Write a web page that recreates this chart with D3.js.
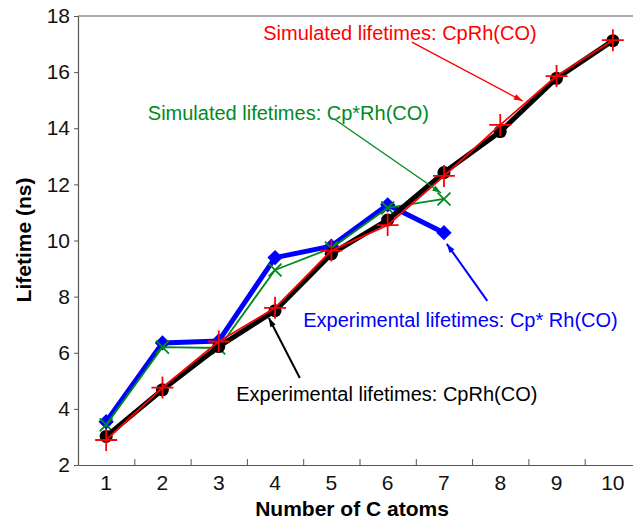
<!DOCTYPE html>
<html>
<head>
<meta charset="utf-8">
<script src="https://cdn.jsdelivr.net/npm/d3@7"></script>
<style>
  body { margin: 0; background: #fff; }
  text { font-family: "Liberation Sans", Arial, sans-serif; }
</style>
</head>
<body>
<svg id="chart" width="633" height="523"></svg>
<script>
// data
const carbons = [1, 2, 3, 4, 5, 6, 7, 8, 9, 10];
const expCp = [3.02, 4.68, 6.22, 7.5, 9.52, 10.73, 12.42, 13.88, 15.78, 17.12];
const simCp = [2.89, 4.76, 6.4, 7.6, 9.64, 10.55, 12.3, 14.12, 15.86, 17.14];
const expCpStar = [3.54, 6.35, 6.42, 9.39, 9.8, 11.27, 10.28];
const simCpStar = [3.43, 6.2, 6.17, 8.95, 9.73, 11.16, 11.48];
const yTicks = [2, 4, 6, 8, 10, 12, 14, 16, 18];

// annotation labels (data units), arrow from -> to
const notes = [
  {text: 'Simulated lifetimes: CpRh(CO)', color: '#ff0000', tx: 3.79, ty: 17.15, from: [6.43, 17.07], to: [8.40, 14.97]},
  {text: 'Simulated lifetimes: Cp*Rh(CO)', color: '#008a1e', tx: 1.74, ty: 14.3, from: [5.07, 14.3], to: [6.95, 11.69]},
  {text: 'Experimental lifetimes: Cp* Rh(CO)', color: '#0000ff', tx: 4.5, ty: 6.92, from: [7.77, 7.85], to: [7.05, 9.88]},
  {text: 'Experimental lifetimes: CpRh(CO)', color: '#000000', tx: 3.31, ty: 4.28, from: [4.44, 5.1], to: [3.89, 7.24]}
];

const svg = d3.select('#chart');
const LEFT = 78, TOP = 16, BOTTOM = 465, RIGHT = 641;

const x = d3.scaleLinear().domain([0.5, 10.5]).range([LEFT, RIGHT]);
const y = d3.scaleLinear().domain([2, 18]).range([BOTTOM, TOP]);
const axisColor = '#555';

// frame: top border
svg.append('line')
  .attr('x1', LEFT).attr('x2', RIGHT)
  .attr('y1', TOP).attr('y2', TOP)
  .attr('stroke', axisColor).attr('stroke-width', 1.2);

// left axis
const yAxis = svg.append('g')
  .attr('transform', `translate(${LEFT},0)`)
  .call(d3.axisLeft(y).tickValues(yTicks).tickSize(4).tickSizeOuter(0).tickPadding(4));
yAxis.select('.domain').attr('stroke', axisColor).attr('stroke-width', 1.2);
yAxis.selectAll('.tick line').attr('stroke', axisColor);
yAxis.selectAll('.tick text')
  .attr('fill', '#111')
  .style('font-size', '21px')
  .style('font-family', '"Liberation Sans", Arial, sans-serif');

// bottom axis: ticks between categories, pointing inward
const xAxis = svg.append('g')
  .attr('transform', `translate(0,${BOTTOM})`)
  .call(d3.axisBottom(x).tickValues(carbons.slice(0, -1).map(d => d + 0.5))
    .tickSize(-6).tickSizeOuter(0).tickFormat(''));
xAxis.select('.domain').attr('stroke', axisColor).attr('stroke-width', 1.2);
xAxis.selectAll('.tick line').attr('stroke', axisColor);

svg.append('g').selectAll('text')
  .data(carbons)
  .enter()
  .append('text')
  .attr('x', d => x(d))
  .attr('y', BOTTOM + 25)
  .style('text-anchor', 'middle')
  .style('font-size', '21px')
  .attr('fill', '#111')
  .text(d => d);

// axis titles
svg.append('text')
  .attr('x', 352)
  .attr('y', 516)
  .style('text-anchor', 'middle')
  .style('font-size', '21px')
  .style('font-weight', 'bold')
  .text('Number of C atoms');

svg.append('text')
  .attr('transform', 'rotate(-90)')
  .attr('x', -240)
  .attr('y', 31)
  .style('text-anchor', 'middle')
  .style('font-size', '21px')
  .style('font-weight', 'bold')
  .text('Lifetime (ns)');

const line = d3.line().x((d, i) => x(carbons[i])).y(d => y(d));

function drawSeries(vals, color, width) {
  svg.append('path')
    .datum(vals)
    .attr('d', line)
    .attr('fill', 'none')
    .attr('stroke', color)
    .attr('stroke-width', width)
    .attr('stroke-linejoin', 'round');
  return svg.append('g').selectAll('path').data(vals).enter();
}

// blue: experimental Cp*
drawSeries(expCpStar, '#0000ff', 5)
  .append('path')
  .attr('d', d3.symbol(d3.symbolDiamond2, 150))
  .attr('transform', (d, i) => `translate(${x(carbons[i])},${y(d)})`)
  .attr('fill', '#0000ff');

// green: simulated Cp*
drawSeries(simCpStar, '#008a1e', 1.8)
  .append('path')
  .attr('d', d3.symbol(d3.symbolX, 110))
  .attr('transform', (d, i) => `translate(${x(carbons[i])},${y(d)})`)
  .attr('fill', 'none')
  .attr('stroke', '#008a1e')
  .attr('stroke-width', 1.8);

// black: experimental Cp
drawSeries(expCp, '#000', 5)
  .append('circle')
  .attr('cx', (d, i) => x(carbons[i]))
  .attr('cy', d => y(d))
  .attr('r', 6.5)
  .attr('fill', '#000');

// red: simulated Cp
drawSeries(simCp, '#ff0000', 1.8)
  .append('path')
  .attr('d', d3.symbol(d3.symbolCross2 || d3.symbolPlus, 160))
  .attr('transform', (d, i) => `translate(${x(carbons[i])},${y(d)})`)
  .attr('fill', 'none')
  .attr('stroke', '#ff0000')
  .attr('stroke-width', 1.8);

// annotations with arrows
notes.forEach(n => {
  const x1 = x(n.from[0]), y1 = y(n.from[1]);
  const x2 = x(n.to[0]), y2 = y(n.to[1]);
  svg.append('line')
    .attr('x1', x1).attr('y1', y1)
    .attr('x2', x2).attr('y2', y2)
    .attr('stroke', n.color)
    .attr('stroke-width', n.color === '#0000ff' || n.color === '#000000' ? 2 : 1.3);
  const ang = Math.atan2(y2 - y1, x2 - x1);
  const L = 9, W = 3;
  const bx = x2 - L * Math.cos(ang), by = y2 - L * Math.sin(ang);
  svg.append('path')
    .attr('d', `M${x2},${y2}L${bx - W * Math.sin(ang)},${by + W * Math.cos(ang)}L${bx + W * Math.sin(ang)},${by - W * Math.cos(ang)}Z`)
    .attr('fill', n.color);
  svg.append('text')
    .attr('x', x(n.tx))
    .attr('y', y(n.ty))
    .style('font-size', '20px')
    .attr('fill', n.color)
    .text(n.text);
});
</script>
</body>
</html>
